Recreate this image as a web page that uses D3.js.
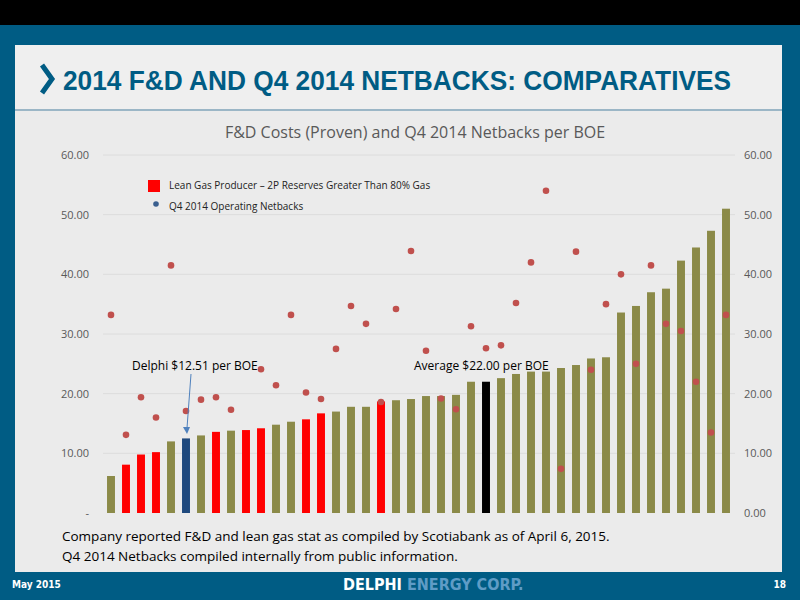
<!DOCTYPE html>
<html><head><meta charset="utf-8">
<script src="https://cdn.jsdelivr.net/npm/d3@7"></script>
<style>body{margin:0;background:#000}svg{display:block}</style>
</head><body>
<svg id="c" width="800" height="600"></svg>
<script>
const fdCosts = [6.2,8.1,9.8,10.2,12.0,12.5,13.0,13.6,13.8,13.9,14.2,14.8,15.3,15.7,16.7,17.0,17.8,17.8,18.7,18.9,19.1,19.6,19.6,19.8,22.0,22.0,22.6,23.3,23.7,23.7,24.3,24.8,25.9,26.1,33.6,34.7,37.0,37.6,42.3,44.5,47.3,51.0];
// type: o = other, r = lean gas, d = Delphi, a = average
const barType = ["o","r","r","r","o","d","o","r","o","r","r","o","o","r","r","o","o","o","r","o","o","o","o","o","o","a","o","o","o","o","o","o","o","o","o","o","o","o","o","o","o","o"];
const netbacks = [33.2,13.1,19.4,16.0,41.5,17.1,19.0,19.4,17.3,null,24.1,21.4,33.2,20.2,19.1,27.5,34.7,31.7,18.6,34.2,43.9,27.2,19.2,17.4,31.3,27.6,28.1,35.2,42.0,54.0,7.4,43.8,24.0,35.0,40.0,25.0,41.5,31.7,30.5,22.0,13.5,33.2];
const yTicks = [0,10,20,30,40,50,60];

const svg = d3.select("#c");
const colors = {o:"#8b8a48", r:"#ff0000", d:"#1f497d", a:"#000000"};
svg.append("rect").attr("x",0).attr("y",0).attr("width",800).attr("height",600).attr("fill","#005c84");
svg.append("rect").attr("x",0).attr("y",0).attr("width",800).attr("height",25).attr("fill","#000");
svg.append("rect").attr("x",15).attr("y",45).attr("width",767).attr("height",527).attr("fill","#ebebeb");
svg.append("rect").attr("x",15).attr("y",45).attr("width",767).attr("height",65).attr("fill","#efefef");
svg.append("line").attr("x1",15).attr("x2",782).attr("y1",110).attr("y2",110).attr("stroke","#9bb6c6").attr("stroke-width",2);
svg.append("path").attr("d","M42,65 L52,79 L42,93").attr("fill","none").attr("stroke","#005c84").attr("stroke-width",5);
svg.append("text").attr("x",63).attr("y",90).attr("font-family","Liberation Sans, Arial").attr("font-weight","bold")
  .attr("font-size",28).attr("fill","#005c84").attr("textLength",668).attr("lengthAdjust","spacingAndGlyphs")
  .text("2014 F&D AND Q4 2014 NETBACKS:  COMPARATIVES");

const x = d3.scaleBand().domain(d3.range(fdCosts.length)).range([103.5,733.5]).paddingInner(0.47).paddingOuter(0.235);
const y = d3.scaleLinear().domain([0,60]).range([513,155]);

svg.append("g").selectAll("line").data(yTicks.slice(1)).join("line")
  .attr("x1",103).attr("x2",735).attr("y1",d=>y(d)).attr("y2",d=>y(d)).attr("stroke","#dcdcdc");

svg.append("g").selectAll("rect").data(fdCosts).join("rect")
  .attr("x",(d,i)=>x(i)).attr("width",x.bandwidth()).attr("y",d=>y(d)).attr("height",d=>y(0)-y(d))
  .attr("fill",(d,i)=>colors[barType[i]]);

svg.append("g").selectAll("circle").data(netbacks.map((v,i)=>({v,i})).filter(d=>d.v!=null)).join("circle")
  .attr("cx",d=>x(d.i)+x.bandwidth()/2).attr("cy",d=>y(d.v)).attr("r",3.3).attr("fill","#c0504d");

const font = "Liberation Sans Narrow, DejaVu Sans Condensed, sans-serif";
const la = d3.axisLeft(y).tickValues(yTicks).tickSize(0).tickFormat(d=>d===0?"-":d3.format(".2f")(d));
svg.append("g").attr("transform","translate(92,0)").call(la).call(g=>{g.select(".domain").remove();
  g.selectAll("text").attr("font-family","Open Sans").attr("font-size",11).attr("fill","#595959");});
const ra = d3.axisRight(y).tickValues(yTicks).tickSize(0).tickFormat(d3.format(".2f"));
svg.append("g").attr("transform","translate(741,0)").call(ra).call(g=>{g.select(".domain").remove();
  g.selectAll("text").attr("font-family","Open Sans").attr("font-size",11).attr("fill","#595959");});

svg.append("text").attr("x",415).attr("y",138).attr("text-anchor","middle").attr("font-family","Open Sans")
  .attr("font-size",16).attr("fill","#595959").text("F&D Costs (Proven) and Q4 2014 Netbacks per BOE");

svg.append("rect").attr("x",148).attr("y",180).attr("width",12).attr("height",12).attr("fill","#ff0000");
svg.append("text").attr("x",169).attr("y",189).attr("font-family","Open Sans").attr("font-size",10).attr("fill","#222").text("Lean Gas Producer – 2P Reserves Greater Than 80% Gas");
svg.append("circle").attr("cx",156).attr("cy",204).attr("r",2.8).attr("fill","#3a5f8f");
svg.append("text").attr("x",169).attr("y",210).attr("font-family","Open Sans").attr("font-size",10).attr("fill","#222").text("Q4 2014 Operating Netbacks");

svg.append("text").attr("x",132).attr("y",370).attr("font-family","Open Sans").attr("font-size",12).attr("fill","#000").text("Delphi $12.51 per BOE");
svg.append("line").attr("x1",191).attr("y1",374).attr("x2",187).attr("y2",428).attr("stroke","#4f81bd").attr("stroke-width",1);
svg.append("path").attr("d","M183,427 L187,434 L190,427Z").attr("fill","#4f81bd");
svg.append("text").attr("x",414).attr("y",370).attr("font-family","Open Sans").attr("font-size",12).attr("fill","#000").text("Average  $22.00 per BOE");

svg.append("text").attr("x",62).attr("y",541).attr("font-family","Open Sans").attr("font-size",13.5).attr("fill","#000").text("Company reported F&D and lean gas stat as compiled by Scotiabank as of April 6, 2015.");
svg.append("text").attr("x",62).attr("y",561).attr("font-family","Open Sans").attr("font-size",13.5).attr("fill","#000").text("Q4 2014 Netbacks compiled internally from public information.");

svg.append("text").attr("x",12).attr("y",588).attr("font-family",font).attr("font-weight","bold").attr("font-size",10).attr("fill","#fff").text("May 2015");
svg.append("text").attr("x",343).attr("y",590).attr("font-family",font).attr("font-weight","bold").attr("font-size",16).attr("fill","#fff")
  .text("DELPHI ").append("tspan").attr("fill","#5f9cc6").text("ENERGY CORP.");
svg.append("text").attr("x",786).attr("y",588).attr("text-anchor","end").attr("font-family",font).attr("font-weight","bold").attr("font-size",10).attr("fill","#fff").text("18");
</script>
</body></html>
